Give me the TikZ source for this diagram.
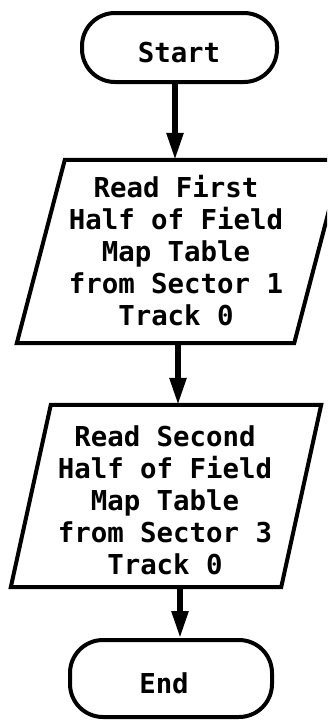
\documentclass[tikz,border=0pt]{standalone}
\usepackage{fontspec}
\setmonofont{DejaVu Sans Mono}
\usetikzlibrary{arrows.meta}
\newcommand\flowfont{\ttfamily\bfseries\fontsize{27.4pt}{32pt}\selectfont}
\begin{document}
\begin{tikzpicture}[x=1pt,y=-1pt]
\tikzset{
  lbl/.style={inner sep=0pt, align=center, font=\flowfont},
  termbox/.style={draw, line width=4pt, rounded corners=33pt, inner sep=0pt},
  iobox/.style={inner sep=0pt, minimum height=183pt},
  frame/.style={line width=4pt},
  arr/.style={line width=5.5pt, -{Triangle[length=27pt,width=16pt]}},
}
\useasboundingbox (0,0) rectangle (327,721);
\clip (0,0) rectangle (327,721);

% Start terminal
\node[termbox, minimum width=195pt, minimum height=69pt] (start) at (179.5,47.5) {};
\node[lbl] (startlbl) at (179,53) {Start};

% First input/output box
\node[iobox, minimum width=277pt] (p1) at (179.5,251.5) {};
\draw[frame] ([xshift=24pt]p1.north west) -- ([xshift=24pt]p1.north east)
  -- ([xshift=-24pt]p1.south east) -- ([xshift=-24pt]p1.south west) -- cycle;
\node[lbl] (p1lbl) at (176,251) {Read First\\Half of Field\\Map Table\\from Sector 1\\Track 0};

% Second input/output box
\node[iobox, minimum width=270pt, minimum height=182pt] (p2) at (166,496) {};
\draw[frame] ([xshift=20pt]p2.north west) -- ([xshift=20pt]p2.north east)
  -- ([xshift=-20pt]p2.south east) -- ([xshift=-20pt]p2.south west) -- cycle;
\node[lbl] (p2lbl) at (165,500) {Read Second\\Half of Field\\Map Table\\from Sector 3\\Track 0};

% End terminal
\node[termbox, minimum width=202pt, minimum height=77pt] (end) at (171,678.5) {};
\node[lbl] (endlbl) at (164,683) {End};

% Flow arrows
\draw[arr] ([xshift=-4.5pt]start.south) -- ([xshift=-4.5pt]start.south |- p1.north);
\draw[arr] ([xshift=-1.5pt]p1.south) -- ([xshift=-1.5pt]p1.south |- p2.north);
\draw[arr] ([xshift=14pt]p2.south) -- ([xshift=14pt]p2.south |- end.north);
\end{tikzpicture}
\end{document}
